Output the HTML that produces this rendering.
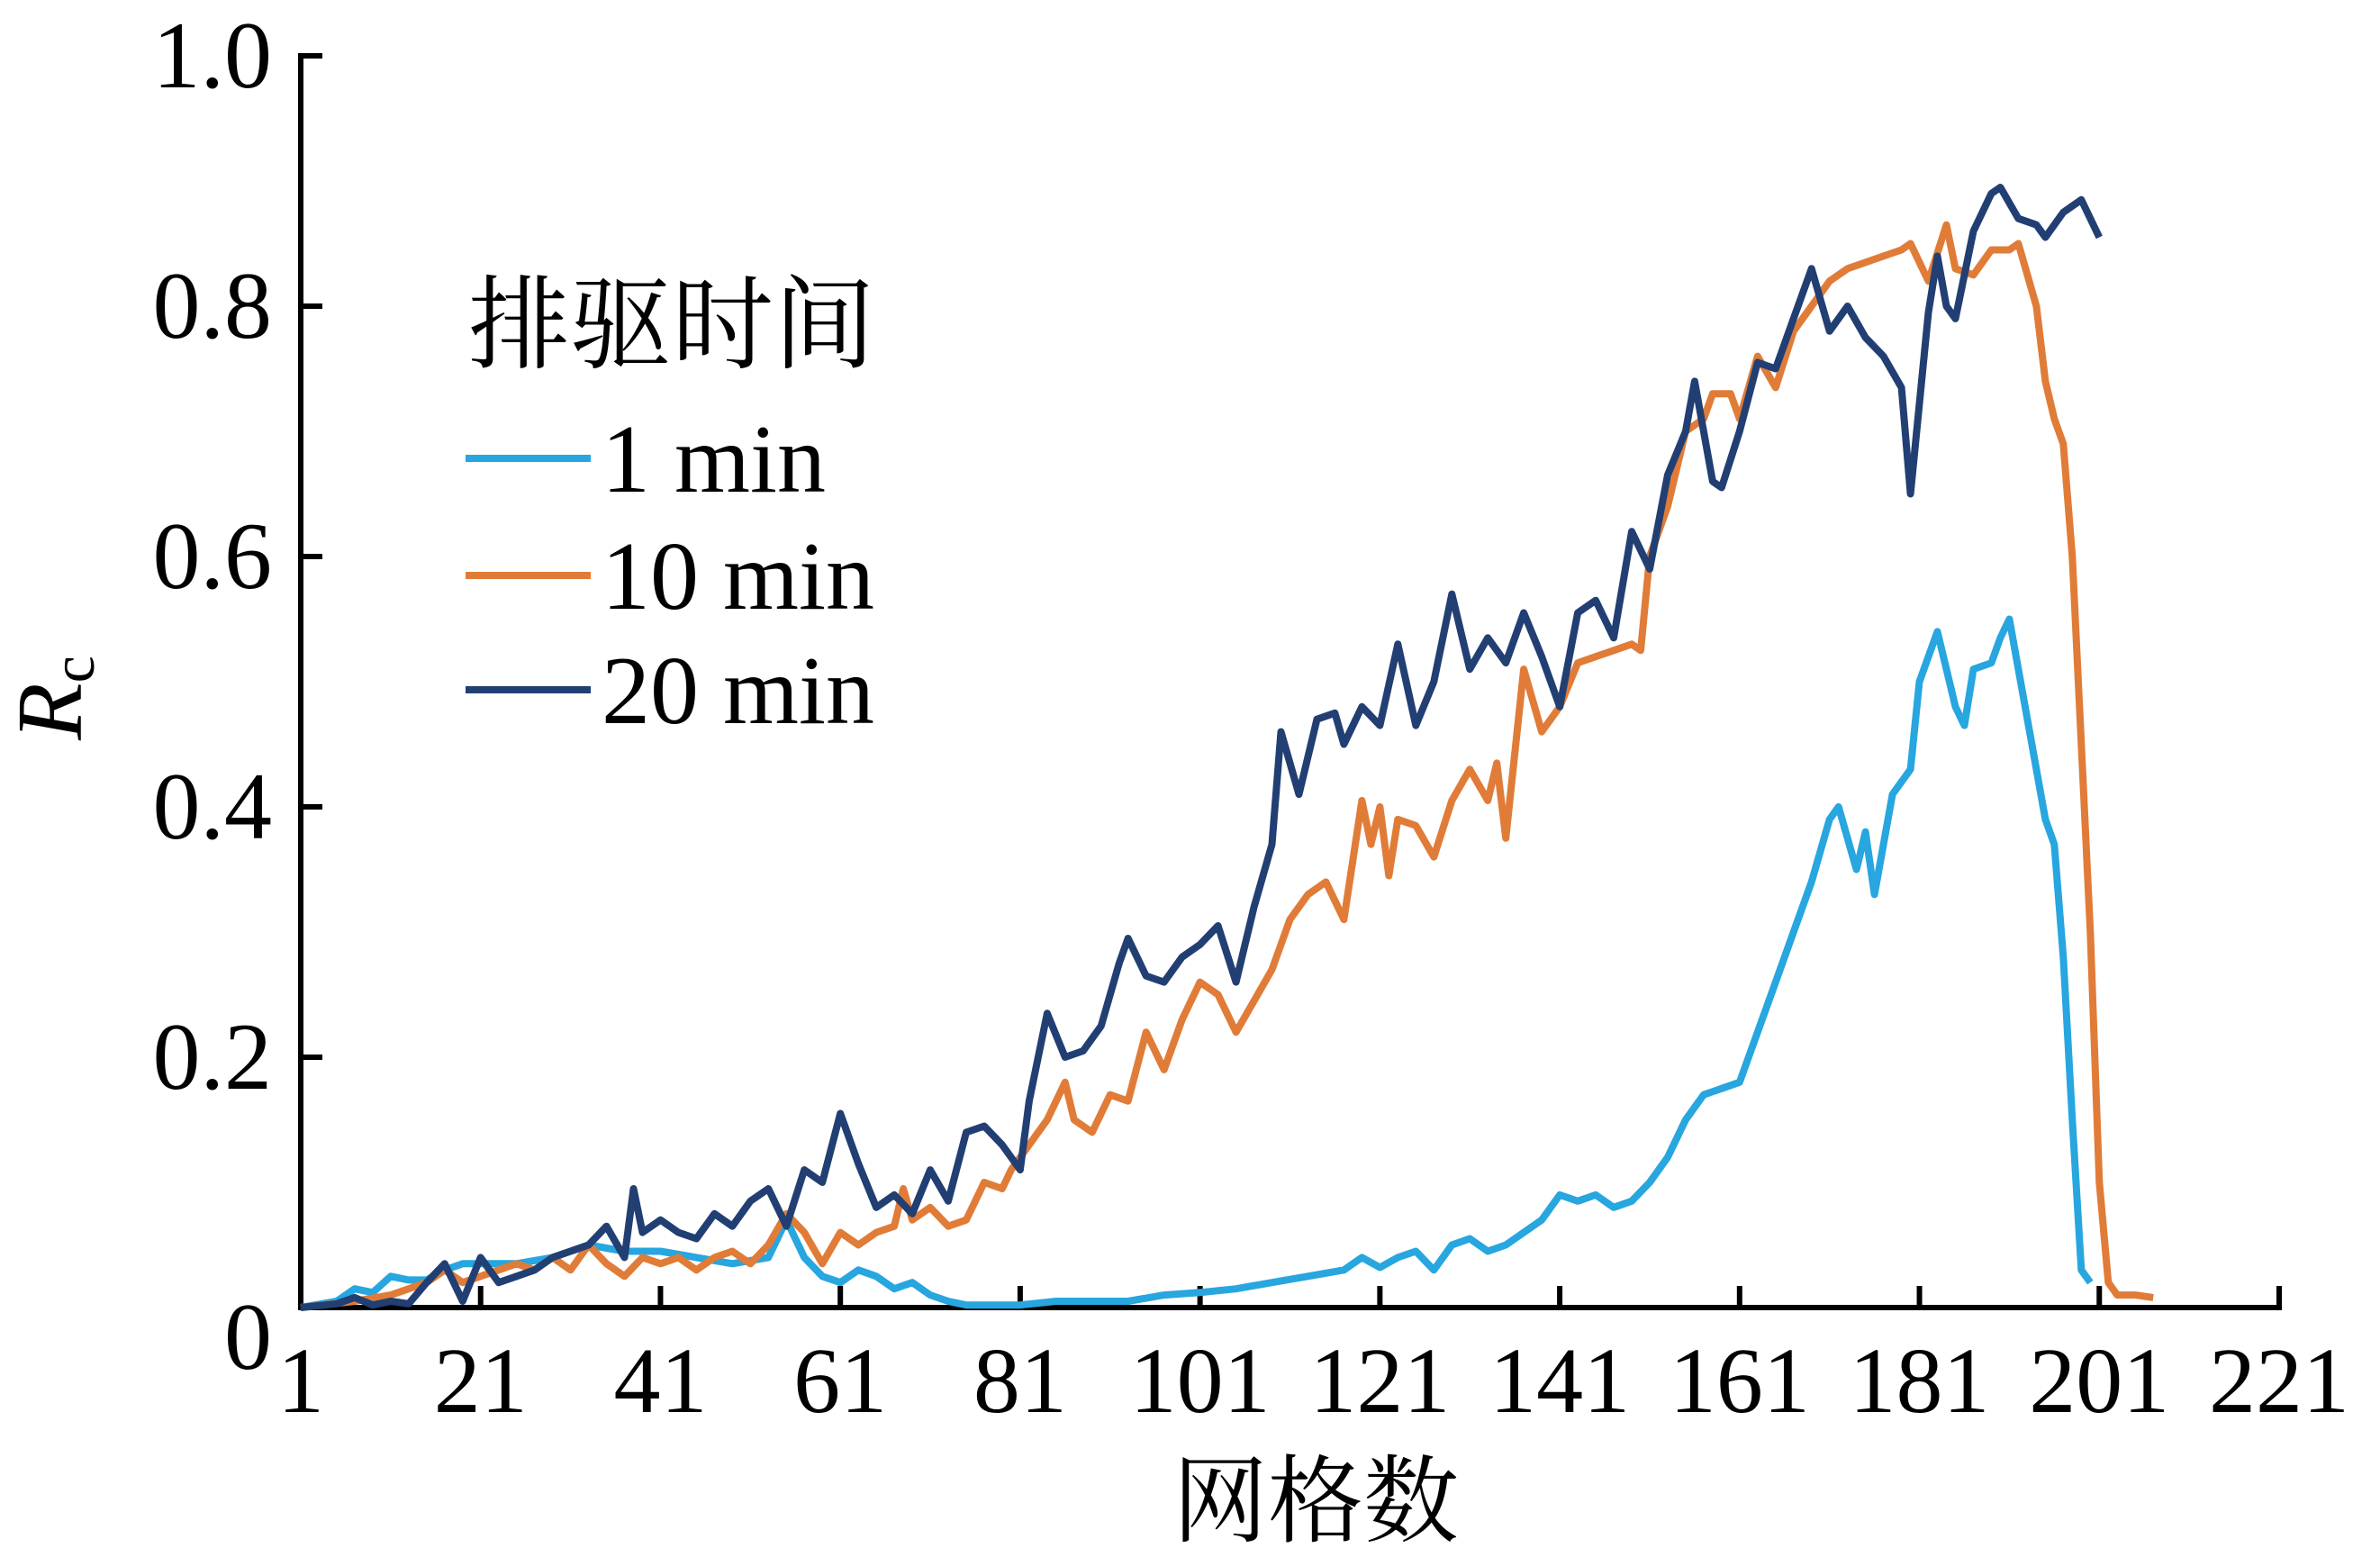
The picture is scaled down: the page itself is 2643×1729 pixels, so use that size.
<!DOCTYPE html>
<html><head><meta charset="utf-8"><style>
html,body{margin:0;padding:0;background:#fff;}
svg{display:block;}
text{font-family:"Liberation Serif","Noto Serif CJK SC",serif;fill:#000;}
</style></head><body>
<svg id="chart" width="2643" height="1729" viewBox="0 0 2643 1729" xmlns="http://www.w3.org/2000/svg">
<g id="axes"></g>
<g id="series"></g>
<g id="legend"></g>
</svg>
<script>
const xTicks=[1,21,41,61,81,101,121,141,161,181,201,221];
const yTicks=[0,0.2,0.4,0.6,0.8,1.0];
const yTickLabels=["0","0.2","0.4","0.6","0.8","1.0"];
const seriesNames=["1 min","10 min","20 min"];
const g1=[1,5,7,9,11,13,15,17,19,21,25,29,33,37,41,45,49,53,55,57,59,61,63,65,67,69,71,73,75,81,85,89,93,97,101,105,109,113,117,119,121,123,125,127,129,131,133,135,137,139,141,143,145,147,149,151,153,155,157,159,161,163,165,167,169,171,172,174,175,176,178,180,181,183,185,186,187,189,190,191,193,195,196,197,198,199,200];
const v1=[0,0.005,0.015,0.012,0.025,0.022,0.022,0.03,0.035,0.035,0.035,0.04,0.05,0.045,0.045,0.04,0.035,0.04,0.07,0.04,0.025,0.02,0.03,0.025,0.015,0.02,0.01,0.005,0.002,0.002,0.005,0.005,0.005,0.01,0.012,0.015,0.02,0.025,0.03,0.04,0.032,0.04,0.045,0.03,0.05,0.055,0.045,0.05,0.06,0.07,0.09,0.085,0.09,0.08,0.085,0.1,0.12,0.15,0.17,0.175,0.18,0.22,0.26,0.3,0.34,0.39,0.4,0.35,0.38,0.33,0.41,0.43,0.5,0.54,0.48,0.465,0.51,0.515,0.535,0.55,0.47,0.39,0.37,0.28,0.15,0.03,0.02];
const g10=[1,7,11,15,17,19,21,23,25,27,29,31,33,35,37,39,41,43,45,47,49,51,53,55,57,59,61,63,65,67,68,69,71,73,75,77,79,80,82,84,86,87,89,91,93,95,97,99,101,103,105,107,109,111,113,115,117,119,120,121,122,123,125,127,129,131,133,134,135,137,139,141,143,145,147,149,150,151,153,155,157,158,160,161,163,165,167,169,171,173,175,177,179,180,182,184,185,187,189,191,192,194,195,196,197,198,199,200,201,202,203,205,207];
const v10=[0,0.005,0.01,0.02,0.03,0.02,0.025,0.03,0.035,0.03,0.04,0.03,0.05,0.035,0.025,0.04,0.035,0.04,0.03,0.04,0.045,0.035,0.05,0.075,0.06,0.035,0.06,0.05,0.06,0.065,0.095,0.07,0.08,0.065,0.07,0.1,0.095,0.11,0.13,0.15,0.18,0.15,0.14,0.17,0.165,0.22,0.19,0.23,0.26,0.25,0.22,0.245,0.27,0.31,0.33,0.34,0.31,0.405,0.37,0.4,0.345,0.39,0.385,0.36,0.405,0.43,0.405,0.435,0.375,0.51,0.46,0.48,0.515,0.52,0.525,0.53,0.525,0.6,0.64,0.7,0.71,0.73,0.73,0.71,0.76,0.735,0.78,0.8,0.82,0.83,0.835,0.84,0.845,0.85,0.82,0.865,0.83,0.825,0.845,0.845,0.85,0.8,0.74,0.71,0.69,0.6,0.45,0.3,0.1,0.02,0.01,0.01,0.008];
const g20=[1,5,7,9,11,13,15,17,19,21,23,25,27,29,31,33,35,37,38,39,41,43,45,47,49,51,53,55,57,59,61,63,65,67,69,71,73,75,77,79,81,82,84,86,88,90,92,93,95,97,99,101,103,105,107,109,110,112,114,116,117,119,121,123,125,127,129,131,133,135,137,139,141,143,145,147,149,151,153,155,156,158,159,161,163,165,167,169,171,173,175,177,179,180,182,183,184,185,187,189,190,192,194,195,197,199,201];
const v20=[0,0.003,0.008,0.002,0.005,0.003,0.02,0.035,0.005,0.04,0.02,0.025,0.03,0.04,0.045,0.05,0.065,0.04,0.095,0.06,0.07,0.06,0.055,0.075,0.065,0.085,0.095,0.065,0.11,0.1,0.155,0.115,0.08,0.09,0.075,0.11,0.085,0.14,0.145,0.13,0.11,0.165,0.235,0.2,0.205,0.225,0.275,0.295,0.265,0.26,0.28,0.29,0.305,0.26,0.32,0.37,0.46,0.41,0.47,0.475,0.45,0.48,0.465,0.53,0.465,0.5,0.57,0.51,0.535,0.515,0.555,0.52,0.48,0.555,0.565,0.535,0.62,0.59,0.665,0.7,0.74,0.66,0.655,0.7,0.755,0.75,0.79,0.83,0.78,0.8,0.775,0.76,0.735,0.65,0.795,0.84,0.8,0.79,0.86,0.89,0.895,0.87,0.865,0.855,0.875,0.885,0.855];
const colors=["#27a6df","#e07c38","#223f73"];

const NS="http://www.w3.org/2000/svg";
const X0=334,X1=2531,Y0=1452,Y1=62;
function xs(g){return X0+(g-1)*(X1-X0)/220;}
function ys(v){return Y0-v*(Y0-Y1);}
function mk(tag,attrs,parent){const e=document.createElementNS(NS,tag);for(const k in attrs)e.setAttribute(k,attrs[k]);parent.appendChild(e);return e;}
const axes=document.getElementById('axes');
const ser=document.getElementById('series');
const leg=document.getElementById('legend');

let a=mk('line',{x1:X0,y1:Y0,x2:X1+3,y2:Y0,stroke:'#000','stroke-width':6},axes);


a=mk('line',{x1:X0,y1:Y0+3,x2:X0,y2:Y1-3,stroke:'#000','stroke-width':6},axes);


xTicks.forEach((t)=>{
  const l=mk('line',{x1:xs(t),y1:Y0,x2:xs(t),y2:Y0-24,stroke:'#000','stroke-width':6},axes);
  
  
  const tx=mk('text',{x:xs(t),y:1568,'font-size':104,'text-anchor':'middle'},axes);
  tx.textContent=String(t);
  
  
});
yTicks.forEach((t,i)=>{
  const l=mk('line',{x1:X0,y1:ys(t),x2:X0+24,y2:ys(t),stroke:'#000','stroke-width':6},axes);
  
  
  const tx=mk('text',{x:302,y:ys(t)+(t===0?68:35),'font-size':106,'text-anchor':'end'},axes);
  tx.textContent=yTickLabels[i];
  
  
});
let xt=mk('text',{x:1461,y:1704,'font-size':106,'text-anchor':'middle'},axes);
xt.textContent='网格数';


let yt=mk('text',{x:0,y:0,'font-size':104,'text-anchor':'middle',transform:'translate(90,775) rotate(-90)'},axes);
yt.innerHTML='<tspan font-style="italic">R</tspan><tspan font-size="68" dy="14">c</tspan>';



const data=[[g1,v1],[g10,v10],[g20,v20]];
data.forEach((d,si)=>{
  const pts=d[0].map((g,i)=>xs(g).toFixed(1)+','+ys(d[1][i]).toFixed(1)).join(' ');
  const p=mk('polyline',{points:pts,fill:'none',stroke:colors[si],'stroke-width':8,'stroke-linejoin':'round'},ser);
  
  
});

let lt=mk('text',{x:520,y:400,'font-size':113},leg);
lt.textContent='排驱时间';


const ly=[509,639,766];
seriesNames.forEach((n,i)=>{
  const l=mk('line',{x1:517,y1:ly[i],x2:656,y2:ly[i],stroke:colors[i],'stroke-width':8},leg);
  
  
  const t=mk('text',{x:668,y:ly[i]+37,'font-size':108},leg);
  t.textContent=n;
  
  
});
</script>
</body></html>
